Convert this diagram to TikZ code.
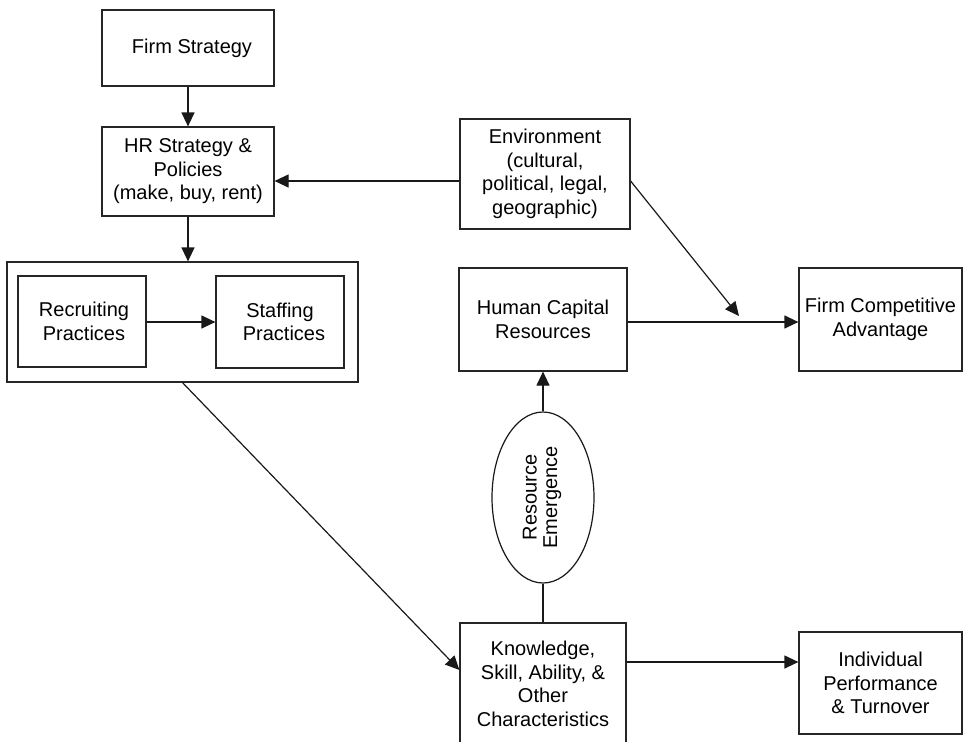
\documentclass[tikz,border=0pt]{standalone}
\usepackage{fontspec}
\setmainfont{Liberation Sans}
\usetikzlibrary{arrows.meta,shapes.geometric}
\begin{document}
\begin{tikzpicture}[x=1pt,y=-1pt,
  box/.style={draw=black!85,line width=1.2pt,rectangle,align=center,inner sep=0pt,
    font=\fontsize{20}{23.5}\selectfont},
  conn/.style={line width=1.2pt,draw=black!90},
  arr/.style={conn,-{Triangle[length=14pt,width=13pt]}}]
\clip (0,0) rectangle (978,742);
\fill[white] (0,0) rectangle (978,742);
% nodes
\node[box,minimum width=172pt,minimum height=76pt] (fs) at (188,48) {\hspace*{8pt}Firm Strategy};
\node[box,minimum width=172pt,minimum height=89pt] (hr) at (188,171.5) {HR Strategy \&\\Policies\\(make, buy, rent)};
\node[box,minimum width=351pt,minimum height=120pt] (outer) at (182.5,322) {};
\node[box,minimum width=128pt,minimum height=91pt] (rec) at (82,321.5) {\hspace*{4pt}Recruiting\\\hspace*{4pt}Practices};
\node[box,minimum width=128pt,minimum height=92pt] (staff) at (280,322) {Staffing\\\hspace*{8pt}Practices};
\node[box,minimum width=170pt,minimum height=110pt] (env) at (545,174) {Environment\\(cultural,\\political, legal,\\geographic)};
\node[box,minimum width=168pt,minimum height=103pt] (hcr) at (543,319.5) {Human Capital\\Resources};
\node[box,minimum width=163pt,minimum height=103pt] (fca) at (880.5,319.5) {Firm Competitive\\Advantage};
\node[ellipse,draw=black!90,line width=1.2pt,minimum width=102pt,minimum height=171pt,inner sep=0pt] (ell) at (543,497.5) {};
\node[rotate=90,align=center,font=\fontsize{20}{20.5}\selectfont] (elltxt) at (542,497.5) {Resource\\Emergence};
\node[box,minimum width=166pt,minimum height=122pt] (ksao) at (543,684) {Knowledge,\\Skill, Ability, \&\\Other\\Characteristics};
\node[box,minimum width=163pt,minimum height=102pt] (ipt) at (880.5,683) {Individual\\Performance\\\& Turnover};
% helper coordinates
\coordinate (y181) at (0,181);
\coordinate (y322) at (0,322);
\coordinate (y662) at (0,662);
\coordinate (y670) at (0,670);
\coordinate (mid) at (739,316);
% connectors
\draw[arr] (fs.south) -- (fs.south |- hr.north);
\draw[arr] (hr.south) -- (hr.south |- outer.north);
\draw[arr] (rec.east |- y322) -- (staff.west |- y322);
\draw[arr] (env.west |- y181) -- (hr.east |- y181);
\draw[arr] (env.east |- y181) -- (mid);
\draw[arr] (hcr.east |- y322) -- (fca.west |- y322);
\draw[arr] (ell.north) -- (hcr.south);
\draw[conn] (ksao.north) -- (ell.south);
\draw[arr] (ksao.east |- y662) -- (ipt.west |- y662);
\draw[arr] (outer.south) -- (ksao.west |- y670);
\end{tikzpicture}
\end{document}
